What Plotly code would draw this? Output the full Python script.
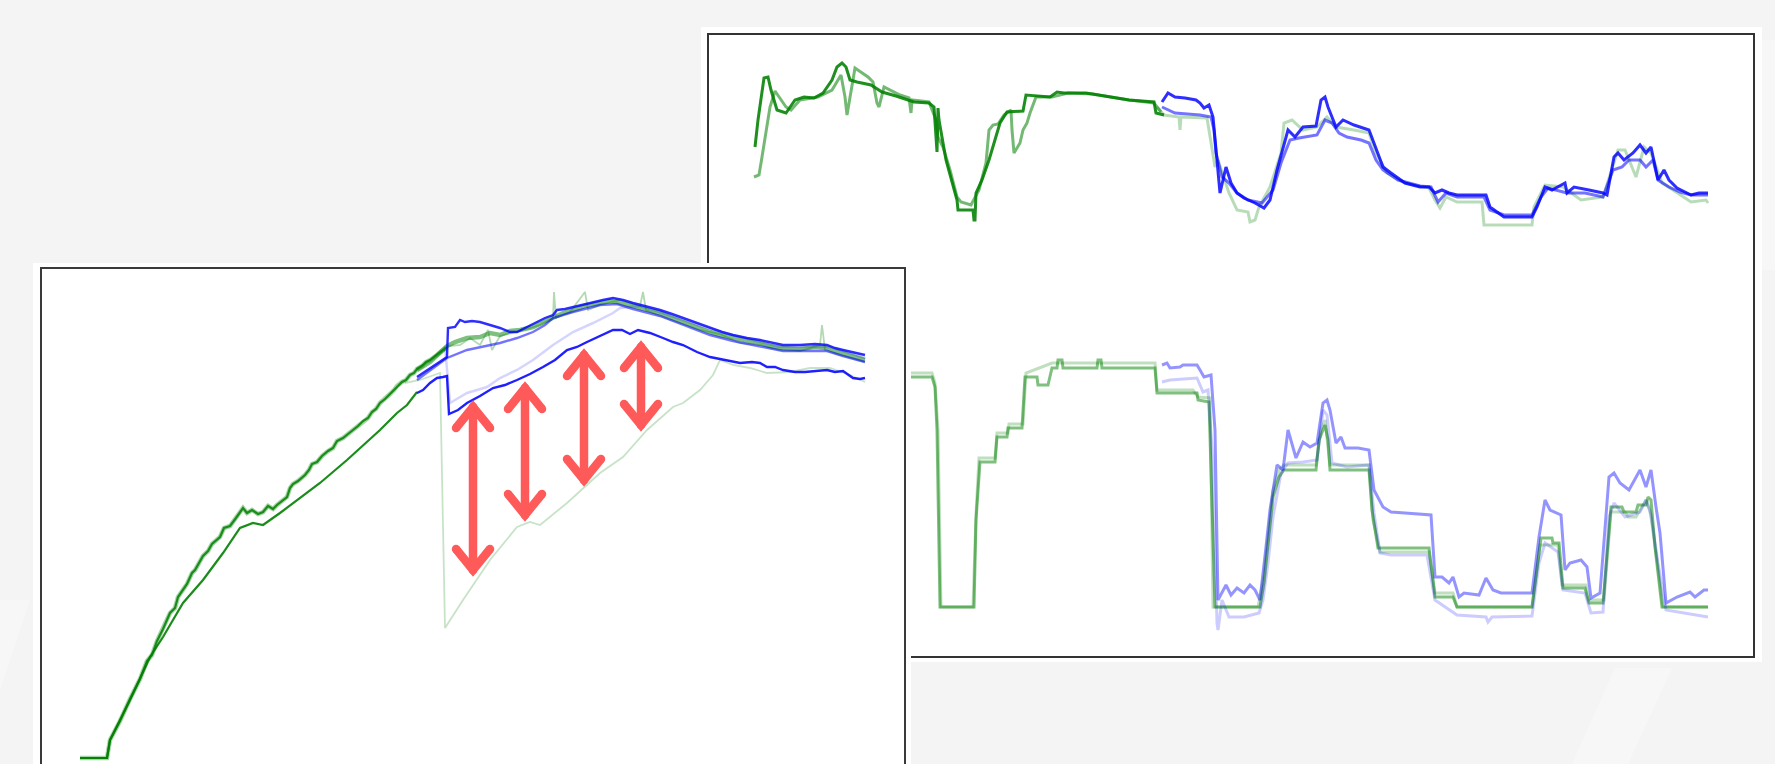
import plotly.graph_objects as go

W, H = 1775, 764

# ---------------- Front panel series: (time, value) ----------------
front_green_smooth = [(39,6),(66,6),(69,24),(89,64),(109,107),(122,127),(142,161),(162,184),(182,211),
    (199,236),(212,241),(222,239),(239,251),(256,264),(279,281),(306,304),(322,319),(339,334),(356,351),
    (366,359),(376,372)]
front_green_noisy = [(39,6),(66,6),(69,24),(79,43),(89,65),(99,85),(106,103),(111,109),(116,123),(122,135),
    (129,151),(134,156),(137,167),(146,180),(151,191),(154,194),(162,208),(167,213),(171,220),(179,227),
    (183,236),(189,238),(195,246),(202,256),(206,251),(211,254),(217,250),(222,252),(227,258),(232,255),
    (236,259),(242,264),(246,267),(249,276),(252,280),(257,283),(264,289),(268,294),(271,300),(276,302),
    (281,308),(287,313),(292,316),(296,323),(302,326),(307,330),(312,334),(317,338),(322,343),(327,346),
    (331,352),(335,355),(339,361),(344,365),(349,370),(353,374),(356,378),(361,382),(365,384),(369,389),
    (373,391),(376,395),(381,398),(385,402),(389,404),(396,409),(401,413),(406,417)]
front_green_band = [(376,394),(389,402),(406,418),(414,422),(426,426),(439,427),(449,431),(459,429),
    (469,433),(479,434),(492,437),(502,442),(512,447),(522,451),(532,454),(544,458),(559,461),(569,463),
    (576,462),(584,460),(592,457),(604,455),(619,451),(629,447),(642,442),(654,438),(669,432),(679,429),
    (692,426),(704,424),(719,421),(729,418),(742,416),(759,415),(774,417),(786,416),(794,413),(802,411),
    (814,407),(824,404)]
front_green_spiky = [(406,418),(419,419),(429,426),(439,419),(447,434),(451,414),(459,428),(479,433),
    (499,439),(512,446),(513,472),(515,446),(529,452),(544,472),(547,454),(559,459),(579,464),(599,458),
    (602,472),(605,454),(619,448),(639,441),(659,434),(679,430),(699,421),(719,419),(739,414),(759,413),
    (779,419),(781,439),(784,414),(799,409),(824,402)]
front_green_light = [(364,381),(379,384),(399,391),(404,136),(422,164),(449,204),(476,237),(489,242),
    (499,239),(526,261),(559,291),(582,307),(606,334),(632,357),(642,361),(659,374),(672,389),(679,404),
    (692,399),(709,396),(726,391),(749,392),(769,396),(789,396),(809,389),(824,382)]
front_blue_top = [(376,387),(389,396),(406,407),(407,436),(414,437),(419,444),(424,442),(431,443),
    (439,442),(449,439),(459,436),(469,432),(476,432),(486,437),(496,442),(504,446),(512,449),(516,454),
    (524,455),(532,457),(544,460),(552,462),(562,464),(572,466),(582,464),(592,461),(604,458),(619,454),
    (631,450),(642,446),(656,441),(669,436),(681,432),(692,429),(706,426),(719,424),(731,421),(742,419),
    (759,419),(774,420),(786,419),(794,416),(802,414),(814,411),(824,409)]
front_blue_mid = [(376,384),(406,406),(426,414),(446,418),(459,421),(476,426),(492,432),(504,439),
    (512,446),(532,452),(559,459),(576,460),(592,455),(619,448),(642,439),(669,429),(692,423),(719,418),
    (742,413),(769,413),(786,413),(802,408),(824,402)]
front_blue_faint = [(404,417),(409,361),(426,371),(446,377),(459,386),(476,394),(492,404),(512,419),
    (532,432),(552,441),(572,451),(579,456),(599,458),(619,452),(659,438),(699,427),(739,417),(789,417),
    (824,406)]
front_blue_low = [(376,371),(382,374),(389,381),(396,386),(402,387),(406,388),(408,350),(417,354),
    (426,361),(439,368),(452,376),(464,379),(476,384),(489,390),(502,397),(514,404),(526,414),(536,417),
    (546,422),(559,428),(572,434),(581,434),(589,430),(597,434),(609,431),(622,426),(632,422),(642,419),
    (656,412),(669,407),(684,404),(699,401),(711,402),(719,401),(726,397),(734,397),(742,394),(754,392),
    (764,392),(774,393),(786,394),(794,392),(802,393),(812,386),(819,385),(824,386)]

# gap arrows (time, upper value, lower value)
arrow_t = [432, 484, 543, 600]
arrow_top = [357, 376, 409, 417]
arrow_bottom = [194, 249, 284, 339]

# ---------------- Back panel, upper plot ----------------
back_top_green_dark = [(47,115),(50,142),(56,184),(60,185),(63,172),(69,152),(78,149),(87,162),(96,165),
    (106,164),(115,169),(124,182),(129,195),(134,199),(138,195),(142,182),(149,180),(163,177),(174,170),
    (188,166),(206,160),(221,159),(226,155),(229,110),(230,154),(231,142),(238,102),(249,62),(250,52),
    (265,52),(266,42),(267,42),(268,69),(274,82),(281,102),(292,139),(299,150),(315,151),(318,167),
    (328,166),(342,165),(349,170),(356,169),(378,169),(403,165),(421,162),(446,160),(448,149),(456,147)]
back_top_green_mid = [(46,85),(51,87),(54,105),(58,132),(62,155),(67,171),(78,155),(83,152),(92,162),
    (110,165),(124,172),(133,187),(137,165),(139,147),(142,165),(146,192),(147,194),(160,185),(165,180),
    (169,159),(171,155),(176,175),(192,167),(201,164),(203,149),(204,162),(221,160),(228,142),(230,125),
    (235,115),(242,92),(249,65),(253,60),(263,57),(271,72),(278,99),(281,132),(285,137),(290,138),
    (296,147),(303,152),(304,132),(306,109),(312,119),(315,132),(319,139),(322,149),(328,165),(344,165),
    (360,169),(385,168),(421,162),(446,159),(449,155),(453,150)]
back_top_green_light = [(449,155),(456,147),(471,145),(472,132),(473,145),(499,144),(507,95),(510,102),
    (521,69),(529,52),(540,50),(542,40),(547,42),(551,55),(562,75),(573,109),(576,139),(584,142),
    (595,132),(609,135),(619,145),(628,135),(646,132),(661,129),(668,109),(679,89),(697,79),(721,74),
    (727,62),(732,54),(738,65),(749,60),(774,60),(776,37),(824,37),(826,55),(837,77),(855,75),(873,62),
    (895,65),(910,112),(917,112),(928,85),(936,115),(943,109),(954,79),(965,72),(983,60),(998,62),(1000,59)]
back_top_blue_top = [(454,160),(460,169),(467,165),(477,164),(488,162),(492,159),(496,154),(501,157),
    (505,145),(508,109),(512,69),(518,95),(523,79),(529,69),(536,64),(547,59),(556,54),(562,62),(569,92),
    (580,132),(587,125),(595,135),(608,136),(613,162),(617,165),(620,155),(628,135),(635,142),(646,137),
    (661,132),(675,95),(683,89),(697,79),(712,75),(721,75),(727,69),(734,72),(741,69),(749,67),(778,67),
    (782,55),(796,45),(824,45),(829,55),(837,75),(844,72),(850,75),(857,79),(859,69),(866,75),(881,72),
    (895,69),(899,67),(906,105),(910,109),(916,102),(925,109),(932,117),(938,109),(943,115),(950,82),
    (956,92),(961,82),(969,74),(983,67),(991,69),(1000,69)]
back_top_blue_mid = [(454,155),(467,149),(492,147),(503,145),(506,132),(508,109),(514,85),(521,79),
    (529,69),(540,62),(554,59),(565,72),(573,99),(582,122),(591,124),(609,127),(617,142),(624,139),
    (631,129),(639,125),(653,122),(661,119),(668,102),(675,92),(690,82),(712,76),(723,75),(730,60),
    (738,69),(749,65),(776,65),(782,52),(796,47),(824,47),(833,65),(840,74),(859,69),(877,69),(895,65),
    (905,92),(914,95),(921,102),(932,102),(938,95),(945,102),(950,82),(961,75),(972,70),(983,67),(1000,67)]

# ---------------- Back panel, lower plot (visible part) ----------------
back_low_green = [(203,280),(224,280),(227,270),(229,227),(232,50),(266,50),(268,137),(272,195),(287,195),
    (289,220),(299,220),(300,229),(314,229),(317,280),(329,280),(330,272),(340,272),(342,282),(344,289),
    (349,289),(350,297),(354,297),(355,289),(389,289),(390,297),(393,297),(394,289),(447,289),(449,264),
    (489,264),(490,257),(501,255),(507,50),(552,50),(556,74),(565,160),(571,180),(576,187),(608,187),
    (611,217),(617,232),(620,217),(622,187),(661,187),(664,147),(670,109),(721,109),(727,60),(745,60),
    (749,50),(824,50),(833,119),(844,119),(845,114),(851,114),(855,69),(877,69),(881,54),(895,54),
    (903,150),(914,150),(916,145),(928,145),(930,152),(938,152),(940,160),(943,157),(947,110),(954,50),
    (1000,50)]
back_low_green_light = [(203,284),(224,284),(227,274),(230,227),(233,50),(265,50),(268,142),(271,199),
    (287,199),(289,224),(300,224),(301,233),(315,233),(318,284),(344,294),(447,294),(449,267),(485,267),
    (490,260),(502,259),(505,50),(550,50),(556,82),(565,167),(571,187),(576,192),(608,192),(613,227),
    (617,237),(622,192),(661,192),(665,137),(672,105),(721,105),(727,64),(745,64),(749,50),(824,50),
    (832,112),(850,112),(854,72),(878,72),(881,57),(896,57),(903,145),(917,145),(920,140),(928,140),
    (938,157),(942,147),(949,97),(955,50),(1000,50)]
back_low_blue = [(454,292),(459,294),(462,289),(472,290),(475,292),(489,292),(492,287),(496,280),(503,282),
    (507,227),(510,57),(514,64),(518,72),(523,62),(529,69),(536,64),(542,72),(547,67),(552,57),(558,110),
    (562,147),(569,192),(575,187),(580,227),(583,217),(588,199),(595,215),(602,210),(609,214),(615,254),
    (619,257),(622,247),(628,214),(633,220),(637,209),(650,209),(661,207),(666,167),(675,150),(683,145),
    (697,144),(723,142),(727,80),(734,80),(741,74),(745,80),(751,60),(756,64),(771,62),(778,79),(785,67),
    (793,64),(824,64),(831,120),(837,157),(842,147),(853,142),(857,87),(862,94),(873,97),(879,90),
    (883,59),(892,64),(901,180),(906,184),(912,174),(921,167),(932,187),(938,170),(943,187),(948,150),
    (952,124),(958,54),(969,60),(982,65),(987,60),(996,67),(1000,67)]
back_low_blue_faint = [(454,275),(462,277),(489,279),(495,265),(500,267),(505,194),(509,34),(510,27),
    (514,57),(519,44),(521,40),(536,40),(551,44),(555,57),(560,94),(565,140),(573,184),(580,194),
    (595,195),(609,197),(615,247),(619,242),(624,194),(639,190),(661,192),(666,144),(672,104),(683,102),
    (719,102),(727,57),(749,42),(778,40),(780,35),(784,40),(824,41),(831,94),(837,114),(850,105),
    (855,67),(877,64),(883,44),(895,45),(901,140),(906,154),(917,140),(932,145),(938,157),(943,142),
    (950,94),(958,47),(976,44),(1000,40)]


def xs(pts):
    return [p[0] for p in pts]


def ys(pts):
    return [p[1] for p in pts]


fig = go.Figure()


def add(pts, color, width, axes):
    xa, ya = axes
    fig.add_trace(go.Scatter(x=xs(pts), y=ys(pts), mode="lines",
                             line=dict(color=color, width=width),
                             xaxis=xa, yaxis=ya, hoverinfo="skip", showlegend=False))


BT = ("x2", "y2")
BL = ("x3", "y3")
FR = ("x", "y")

# back upper
add(back_top_green_mid, "rgba(0,128,0,0.55)", 3.0, BT)
add(back_top_green_dark, "rgba(0,128,0,0.88)", 3.0, BT)
add(back_top_green_light, "rgba(0,128,0,0.28)", 3.0, BT)
add(back_top_blue_mid, "rgba(0,0,255,0.55)", 3.0, BT)
add(back_top_blue_top, "rgba(0,0,255,0.82)", 3.0, BT)
# back lower
add(back_low_green_light, "rgba(0,128,0,0.25)", 3.0, BL)
add(back_low_green, "rgba(0,128,0,0.5)", 3.0, BL)
add(back_low_blue_faint, "rgba(0,0,255,0.2)", 3.0, BL)
add(back_low_blue, "rgba(0,0,255,0.42)", 3.0, BL)
# front
add(front_green_light, "rgba(0,128,0,0.22)", 1.8, FR)
add(front_green_spiky, "rgba(0,128,0,0.3)", 1.8, FR)
add(front_green_noisy, "rgba(0,128,0,0.35)", 4.5, FR)
add(front_green_band, "rgba(0,128,0,0.5)", 4.5, FR)
add(front_blue_faint, "rgba(0,0,255,0.17)", 2.5, FR)
add(front_green_smooth, "rgba(0,128,0,0.9)", 2.2, FR)
add(front_green_noisy, "rgba(0,128,0,0.85)", 2.2, FR)
add(front_blue_mid, "rgba(0,0,255,0.55)", 2.4, FR)
add(front_blue_top, "rgba(0,0,255,0.82)", 2.4, FR)
add(front_blue_low, "rgba(0,0,255,0.88)", 2.4, FR)

# red double-headed arrows
ARM_DT, ARM_DV = 17, 21
for t, top, bot in zip(arrow_t, arrow_top, arrow_bottom):
    ax = [t - ARM_DT, t, t + ARM_DT, None, t, t, None, t - ARM_DT, t, t + ARM_DT]
    ay = [top - ARM_DV, top, top - ARM_DV, None, top, bot, None, bot + ARM_DV, bot, bot + ARM_DV]
    fig.add_trace(go.Scatter(x=ax, y=ay, mode="lines+markers",
                             line=dict(color="#ff5a5a", width=8.5),
                             marker=dict(color="#ff5a5a", size=8.5, line=dict(width=0)),
                             xaxis="x", yaxis="y", hoverinfo="skip", showlegend=False))


def px_x(p):
    return p / W


def px_y(p):
    return 1 - p / H


def poly(points, fill):
    path = "M " + " L ".join(f"{px_x(a):.5f},{px_y(b):.5f}" for a, b in points) + " Z"
    return dict(type="path", xref="paper", yref="paper", path=path, fillcolor=fill,
                line=dict(width=0), layer="below")


shapes = [
    # faint light slashes in the textured background
    poly([(1615, 668), (1672, 668), (1628, 764), (1572, 764)], "rgba(255,255,255,0.3)"),
    poly([(0, 600), (30, 600), (0, 690)], "rgba(255,255,255,0.3)"),
    poly([(1762, 40), (1775, 40), (1775, 270), (1762, 270)], "rgba(255,255,255,0.3)"),
    # back card
    dict(type="rect", xref="paper", yref="paper", x0=px_x(701), x1=px_x(1762), y0=px_y(662), y1=px_y(27),
         fillcolor="white", line=dict(width=0), layer="below"),
    dict(type="rect", xref="paper", yref="paper", x0=px_x(708), x1=px_x(1754), y0=px_y(657), y1=px_y(34),
         fillcolor="rgba(0,0,0,0)", line=dict(color="#333333", width=2), layer="below"),
    # front card
    dict(type="rect", xref="paper", yref="paper", x0=px_x(33), x1=px_x(911), y0=px_y(790), y1=px_y(263),
         fillcolor="white", line=dict(width=0), layer="below"),
    dict(type="rect", xref="paper", yref="paper", x0=px_x(41), x1=px_x(905), y0=px_y(790), y1=px_y(268),
         fillcolor="rgba(0,0,0,0)", line=dict(color="#3a3a3a", width=2), layer="below"),
]

hidden = dict(visible=False, showgrid=False, zeroline=False, fixedrange=True)
fig.update_layout(
    width=W, height=H, autosize=False,
    margin=dict(l=0, r=0, t=0, b=0, pad=0),
    paper_bgcolor="#f4f4f4", plot_bgcolor="rgba(0,0,0,0)",
    showlegend=False,
    shapes=shapes,
    xaxis=dict(domain=[px_x(41), px_x(905)], range=[0, 864], **hidden),
    yaxis=dict(domain=[0, (H - 268) / H], range=[0, 496], **hidden),
    xaxis2=dict(domain=[px_x(708), px_x(1754)], range=[0, 1046], anchor="y2", **hidden),
    yaxis2=dict(domain=[(H - 262) / H, (H - 34) / H], range=[0, 228], anchor="x2", **hidden),
    xaxis3=dict(domain=[px_x(911), px_x(1754)], range=[203, 1046], anchor="y3", **hidden),
    yaxis3=dict(domain=[(H - 657) / H, (H - 340) / H], range=[0, 317], anchor="x3", **hidden),
)

fig.write_html("out.html", config={"displayModeBar": False, "staticPlot": True},
               post_script="document.body.style.margin='0';document.body.style.overflow='hidden';")
